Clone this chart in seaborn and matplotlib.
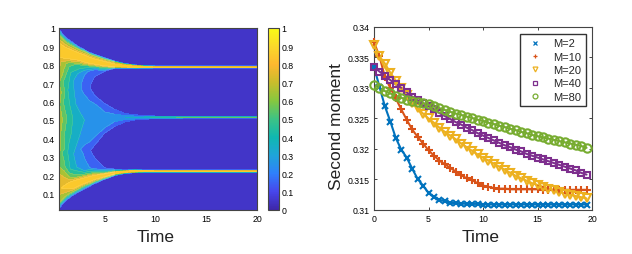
import numpy as np
import pandas as pd
import matplotlib
matplotlib.use('Agg')
import matplotlib.pyplot as plt
from matplotlib.colors import LinearSegmentedColormap, Normalize
from matplotlib.cm import ScalarMappable
import seaborn as sns

# Panel izquierdo: perfiles leidos a ojo, una fila por nudo y una columna por tiempo
tiempos_mapa = [0.5, 1, 1.5, 2, 2.5, 3, 3.5, 4, 5, 6, 7, 8, 9, 10, 12, 15, 20]
nudos_y = [
    [.01, .01, .01, .01, .01, .01, .01, .01, .01, .01, .01, .01, .01, .01, .01, .01, .01],
    [.012, .045, .07, .09, .105, .12, .135, .15, .175, .195, .207, .212, .214, .214, .214, .214, .214],
    [.05, .08, .10, .115, .13, .145, .155, .168, .187, .205, .213, .217, .218, .218, .218, .218, .218],
    [.13, .13, .13, .135, .15, .16, .17, .18, .195, .21, .217, .221, .221, .221, .221, .221, .221],
    [.17, .165, .16, .165, .172, .18, .188, .195, .204, .215, .22, .2235, .2225, .2225, .2225, .2225, .2225],
    [.20, .195, .19, .19, .195, .20, .205, .21, .212, .22, .224, .226, .224, .224, .224, .224, .224],
    [.24, .25, .23, .245, .24, .23, .24, .235, .235, .232, .228, .23, .228, .228, .228, .228, .228],
    [.31, .33, .31, .32, .33, .31, .32, .325, .262, .24, .233, .232, .23, .23, .23, .23, .23],
    [.33, .345, .33, .335, .345, .33, .335, .335, .40, .44, .47, .485, .495, .50, .504, .506, .506],
    [.42, .41, .43, .42, .41, .43, .42, .43, .46, .48, .495, .50, .504, .507, .509, .51, .51],
    [.51, .50, .52, .505, .515, .50, .52, .51, .51, .512, .512, .512, .513, .514, .514, .514, .514],
    [.58, .60, .57, .59, .57, .59, .58, .58, .56, .55, .535, .528, .524, .521, .519, .518, .518],
    [.66, .64, .67, .65, .67, .65, .67, .66, .63, .58, .553, .54, .532, .527, .522, .52, .52],
    [.70, .71, .69, .71, .70, .71, .69, .705, .757, .775, .776, .778, .779, .78, .78, .78, .78],
    [.75, .74, .76, .75, .75, .76, .765, .77, .765, .781, .781, .78, .781, .782, .782, .782, .782],
    [.82, .81, .805, .80, .80, .795, .793, .79, .785, .785, .785, .784, .784, .784, .784, .784, .784],
    [.85, .845, .84, .835, .83, .82, .812, .807, .797, .792, .789, .7865, .7855, .7855, .7855, .7855, .7855],
    [.90, .885, .875, .865, .855, .845, .835, .825, .812, .80, .793, .79, .788, .787, .787, .787, .787],
    [.96, .93, .91, .895, .88, .87, .855, .845, .828, .813, .802, .796, .792, .791, .791, .791, .791],
    [1.0, .965, .94, .92, .90, .885, .87, .86, .84, .822, .808, .80, .796, .795, .795, .795, .795],
    [1, 1, 1, 1, 1, 1, 1, 1, 1, 1, 1, 1, 1, 1, 1, 1, 1],
]
nudos_v = [
    [0] * 17,
    [0] * 17,
    [.6, .6, .6, .6, .6, .6, .6, .6, .6, .6, .6, .6, .5, .45, .45, .45, .45],
    [.78, .82, .84, .88, .89, .89, .89, .89, .89, .89, .89, .89, .88, .86, .84, .84, .84],
    [.76, .76, .8, .86, .87, .87, .87, .87, .87, .87, .87, .87, .8, .78, .76, .76, .76],
    [.72, .68, .6, .55, .55, .55, .55, .55, .55, .5, .5, .5, .45, .45, .45, .45, .45],
    [.62, .52, .42, .32, .28, .24, .2, .18, .12, .1, .1, .1, .1, .1, .1, .1, .1],
    [.56, .46, .38, .29, .24, .19, .13, .06, 0, 0, 0, 0, 0, 0, 0, 0, 0],
    [.62, .52, .36, .31, .21, .17, .12, .04, 0, 0, 0, 0, 0, 0, 0, 0, 0],
    [.64, .5, .44, .34, .3, .26, .27, .25, .21, .16, .13, .1, .1, .1, .1, .1, .1],
    [.68, .56, .45, .38, .33, .3, .28, .27, .26, .27, .3, .33, .38, .42, .5, .55, .55],
    [.62, .48, .42, .31, .28, .24, .23, .22, .17, .13, .1, .1, .1, .1, .1, .1, .1],
    [.66, .52, .36, .3, .21, .19, .12, .04, 0, 0, 0, 0, 0, 0, 0, 0, 0],
    [.6, .48, .39, .28, .24, .16, .12, .05, 0, 0, 0, 0, 0, 0, 0, 0, 0],
    [.68, .55, .42, .35, .27, .22, .19, .16, .1, .1, .1, .1, .1, .1, .1, .1, .1],
    [.74, .64, .54, .5, .5, .5, .5, .5, .5, .5, .5, .45, .45, .45, .45, .45, .45],
    [.82, .86, .87, .87, .87, .87, .87, .87, .87, .87, .87, .86, .8, .78, .76, .76, .76],
    [.89, .89, .89, .89, .89, .89, .89, .89, .89, .89, .89, .89, .88, .85, .84, .84, .84],
    [.6, .6, .6, .6, .6, .6, .6, .6, .6, .6, .6, .6, .5, .45, .45, .45, .45],
    [0] * 17,
    [0] * 17,
]
colores_parula = ['#3e26a8', '#4746eb', '#2f80fb', '#1fa4d9', '#0fb8b0', '#3dc385',
                  '#86c83f', '#c8bd2c', '#fdb82f', '#fad92a', '#f9fb15']
ticks_y_mapa = [0.1, 0.2, 0.3, 0.4, 0.5, 0.6, 0.7, 0.8, 0.9, 1]
ticks_barra = [0, 0.1, 0.2, 0.3, 0.4, 0.5, 0.6, 0.7, 0.8, 0.9, 1]

# Panel derecho: segundo momento, un punto cada 0.5 de tiempo
tiempo = [i * 0.5 for i in range(40)]
m2 = [.3335, .3302, .3270, .3245, .3218, .3199, .3186, .3168, .3151, .3140, .3128, .3121, .3117, .3114,
      .3112, .3111, .31105, .3110, .3110, .3110, .3109, .3109, .3109, .3109, .3109, .3109, .3109, .3109,
      .3109, .3109, .3109, .3109, .3109, .3109, .3109, .3109, .3109, .3109, .3109, .3109]
m10 = [.3375, .3352, .3318, .3300, .3283, .3265, .3248, .3232, .3220, .3209, .3198, .3189, .3181, .3175,
       .3169, .3163, .3157, .3152, .3149, .3144, .3140, .3138, .3136, .3135, .3135, .3134, .3134, .3134,
       .3134, .3134, .3134, .3133, .3133, .3133, .3133, .3133, .3133, .3133, .3133, .3133]
m20 = [.3370, .3352, .3340, .3325, .3312, .3300, .3288, .3275, .3267, .3258, .3250, .3243, .3235, .3228,
       .3222, .3216, .3209, .3203, .3197, .3191, .3186, .3181, .3176, .3171, .3166, .3161, .3156, .3152,
       .3148, .3144, .3141, .3138, .3135, .3132, .3130, .3127, .3125, .3123, .3121, .3119]
m40 = [.3335, .3327, .3320, .3313, .3306, .3300, .3293, .3286, .3280, .3275, .3270, .3265, .3259, .3254,
       .3249, .3244, .3240, .3235, .3231, .3226, .3222, .3218, .3214, .3210, .3206, .3203, .3199, .3196,
       .3192, .3189, .3186, .3183, .3180, .3177, .3174, .3171, .3168, .3165, .3161, .3158]
m80 = [.3305, .3300, .3295, .3291, .3287, .3284, .3281, .3279, .3277, .3275, .3273, .3270, .3267, .3264,
       .3261, .3258, .3256, .3253, .3251, .3248, .3246, .3243, .3241, .3238, .3236, .3233, .3231, .3228,
       .3226, .3223, .3221, .3219, .3217, .3215, .3213, .3211, .3209, .3207, .3205, .3202]
series = {'M=2': m2, 'M=10': m10, 'M=20': m20, 'M=40': m40, 'M=80': m80}
colores = ['#0072bd', '#d95319', '#edb120', '#7e2f8e', '#77ac30']
marcadores = ['x', '+', 'v', 's', 'o']
tamanos = [4.2, 6, 6, 5, 6]
ticks_y = [0.31, 0.315, 0.32, 0.325, 0.33, 0.335, 0.34]
etiquetas_y = ['0.31', '0.315', '0.32', '0.325', '0.33', '0.335', '0.34']

sns.set_theme(style='ticks')
plt.rcParams['font.family'] = ['Liberation Sans', 'DejaVu Sans']

fig = plt.figure(figsize=(6.32, 2.55), dpi=100)
ax1 = fig.add_axes([59 / 632, 1 - 211 / 255, 198 / 632, 182 / 255])
cax = fig.add_axes([268 / 632, 1 - 211 / 255, 11 / 632, 182 / 255])
ax2 = fig.add_axes([374 / 632, 1 - 211 / 255, 218 / 632, 183 / 255])

# Mapa de contornos, con lineas claras solo donde las bandas aun son anchas
parula = LinearSegmentedColormap.from_list('parula', colores_parula)
norma = Normalize(0, 1)
Y = np.array(nudos_y)
V = np.array(nudos_v)
X = np.tile(tiempos_mapa, (Y.shape[0], 1))
ax1.contourf(X, Y, V, levels=np.linspace(0, 1, 11), cmap=parula, norm=norma)
ax1.contour(X[:, :10], Y[:, :10], V[:, :10], levels=np.linspace(0.1, 0.9, 9), colors='white',
            linewidths=0.3, alpha=0.22)
ax1.set_xlim(0.5, 20)
ax1.set_ylim(0.01, 1)
ax1.set_xticks([5, 10, 15, 20])
ax1.set_yticks(ticks_y_mapa)
ax1.set_yticklabels(['0.1', '0.2', '0.3', '0.4', '0.5', '0.6', '0.7', '0.8', '0.9', '1'])

barra = fig.colorbar(ScalarMappable(norm=norma, cmap=parula), cax=cax)
barra.set_ticks(ticks_barra)
barra.set_ticklabels(['0', '0.1', '0.2', '0.3', '0.4', '0.5', '0.6', '0.7', '0.8', '0.9', '1'])

# Curvas de segundo momento
datos = pd.DataFrame(series, index=tiempo).rename_axis('Time').reset_index()
datos = datos.melt(id_vars='Time', var_name='M', value_name='Second moment')
sns.lineplot(data=datos, x='Time', y='Second moment', hue='M', palette=colores, style='M',
             dashes=False, markers=False, lw=1.5, legend=False, ax=ax2)
for (nombre, valores), color, marcador, ms in zip(series.items(), colores, marcadores, tamanos):
    ax2.plot(tiempo, valores, ls='none', marker=marcador, ms=ms, mew=1.5,
             mfc='none', mec=color, clip_on=False, zorder=3)
    ax2.plot([], [], ls='none', marker=marcador, ms=3.5, mew=0.9, mfc='none', mec=color, label=nombre)
ax2.set_xlim(0, 20)
ax2.set_ylim(0.31, 0.34)
ax2.set_xticks([0, 5, 10, 15, 20])
ax2.set_yticks(ticks_y)
ax2.set_yticklabels(etiquetas_y)
ax2.set_ylabel('Second moment', fontsize=12.5, labelpad=3, color='#222222', y=0.459)
h, l = ax2.get_legend_handles_labels()
ax2.legend(h[-5:], l[-5:], loc='upper right', bbox_to_anchor=(0.972, 0.962), borderaxespad=0, fontsize=8,
           fancybox=False, framealpha=1, edgecolor='#333333', labelspacing=0.3, handletextpad=0.7,
           borderpad=0.4, handlelength=1.9)

for ax in [ax1, ax2]:
    ax.set_xlabel('Time', fontsize=12.5, labelpad=4, color='#222222', x=0.49)
    ax.tick_params(direction='in', length=2, width=0.6, labelsize=6.3, top=True, right=True, pad=3,
                   labelcolor='black')
    for s in ax.spines.values():
        s.set_linewidth(0.8)
        s.set_color('#444444')
cax.tick_params(direction='in', length=2, width=0.5, labelsize=6.3, pad=2, labelcolor='black')
for s in cax.spines.values():
    s.set_linewidth(0.8)
    s.set_color('#444444')

fig.savefig('out.png', dpi=100)
